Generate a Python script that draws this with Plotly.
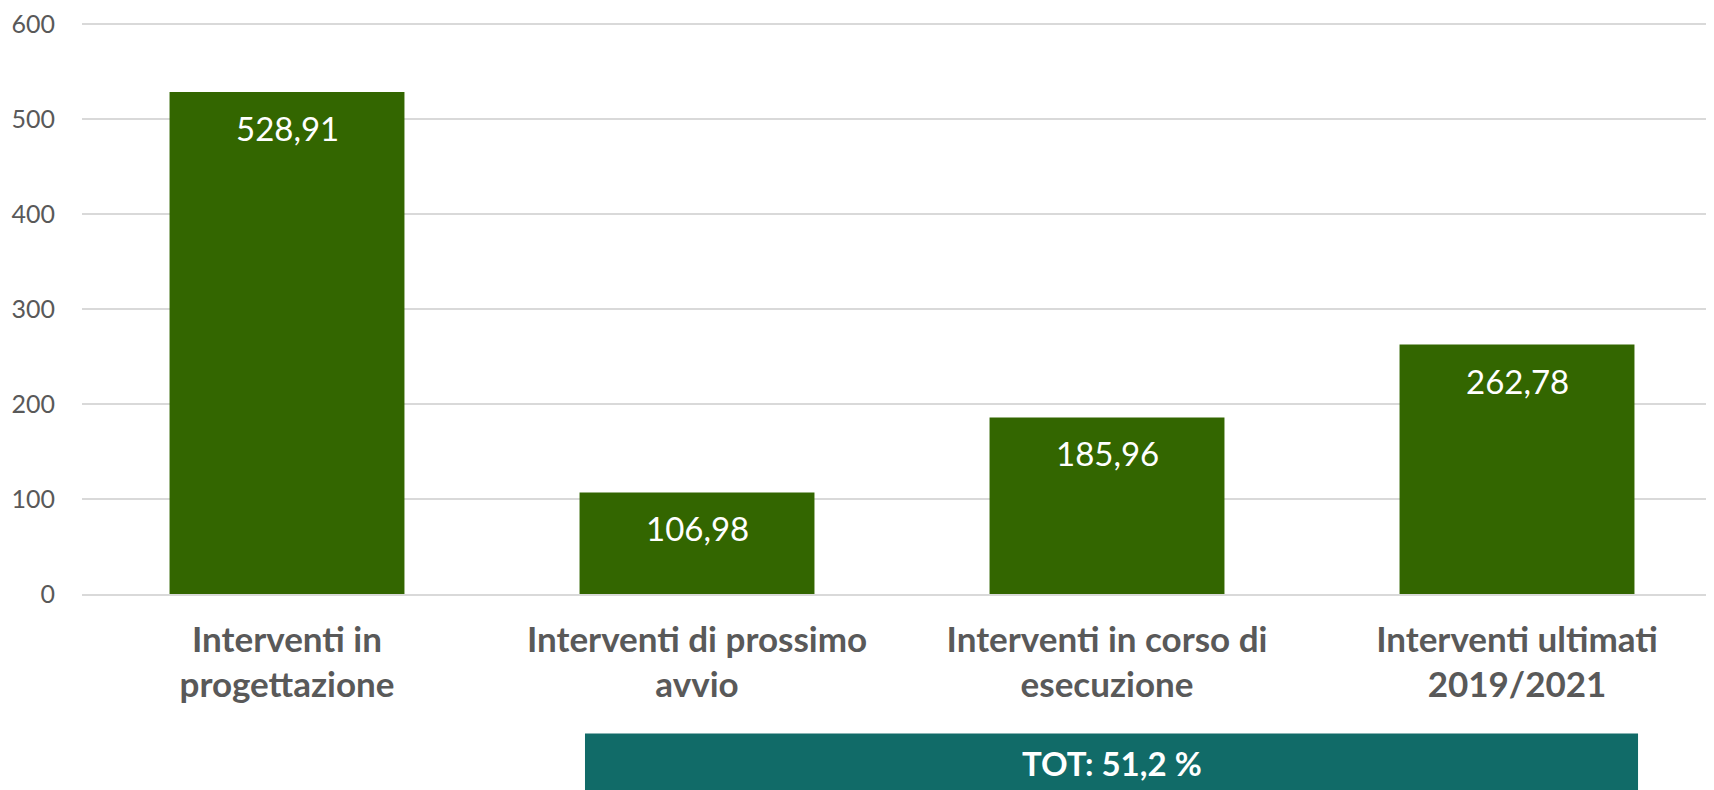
import plotly.graph_objects as go

categories = ["Interventi in<br>progettazione",
              "Interventi di prossimo<br>avvio",
              "Interventi in corso di<br>esecuzione",
              "Interventi ultimati<br>2019/2021"]
values = [528.91, 106.98, 185.96, 262.78]
value_labels = ["528,91", "106,98", "185,96", "262,78"]
tick_vals = [0, 100, 200, 300, 400, 500, 600]
total_label = "TOT: 51,2 %"

BAR = "#336600"
TEAL = "#116B68"
GRAY = "#595959"
FONT = "Lato"

fig = go.Figure()
fig.add_trace(go.Bar(x=categories, y=values, marker=dict(color=BAR, line=dict(width=0)),
                     width=0.573, hoverinfo="skip"))

for c, v, t in zip(categories, values, value_labels):
    fig.add_annotation(x=c, y=v, xref="x", yref="y", text=t, showarrow=False,
                       yanchor="middle", yshift=-36,
                       font=dict(family=FONT, size=33, color="white"))

H = 581.5
def py(px_below_axis):
    return -px_below_axis / H

fig.add_shape(type="rect", xref="paper", yref="paper",
              x0=0.3067, x1=0.9488, y0=py(220), y1=py(140),
              fillcolor=TEAL, line=dict(width=0), layer="above")
fig.add_annotation(xref="paper", yref="paper", x=(0.3067 + 0.9488) / 2, y=py(170),
                   text="<b>" + total_label + "</b>", showarrow=False,
                   yanchor="middle", xanchor="center",
                   font=dict(family=FONT, size=33, color="white"))

fig.update_layout(
    width=1714, height=790,
    margin=dict(l=74, r=0, t=4.5, b=204),
    paper_bgcolor="white", plot_bgcolor="white",
    showlegend=False, bargap=0.427,
    font=dict(family=FONT, color=GRAY),
)
fig.update_yaxes(range=[0, 610], tickvals=tick_vals, showgrid=True, gridcolor="#D9D9D9",
                 gridwidth=1.5, zeroline=False, showline=False,
                 ticklabeloverflow="allow",
                 tickfont=dict(family=FONT, size=25, color=GRAY), ticklabelstandoff=26)
fig.update_xaxes(showline=True, linecolor="#D9D9D9", linewidth=1.5,
                 ticks="outside", ticklen=14, tickcolor="rgba(0,0,0,0)",
                 tickfont=dict(family=FONT, size=35, color=GRAY, weight="bold"))

fig.write_html("out.html")
